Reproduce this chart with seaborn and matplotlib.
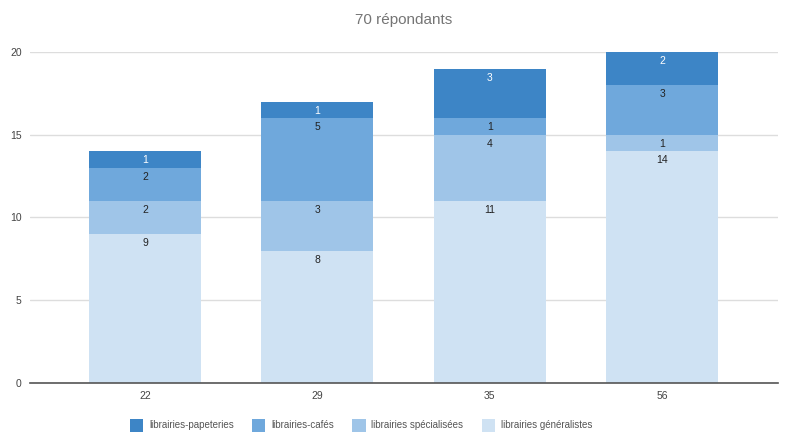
import pandas as pd
import matplotlib.pyplot as plt
import seaborn as sns

# Données
categories = ["22", "29", "35", "56"]
generalistes = [9, 8, 11, 14]
specialisees = [2, 3, 4, 1]
cafes = [2, 5, 1, 3]
papeteries = [1, 1, 3, 2]

series = ["librairies généralistes", "librairies spécialisées",
          "librairies-cafés", "librairies-papeteries"]
colors = ["#cfe2f3", "#9fc5e8", "#6fa8dc", "#3d85c6"]

df = pd.DataFrame({
    "cat": categories,
    series[0]: generalistes,
    series[1]: specialisees,
    series[2]: cafes,
    series[3]: papeteries,
})

sns.set_theme(style="white")
plt.rcParams["font.family"] = ["Liberation Sans", "DejaVu Sans"]

fig = plt.figure(figsize=(8.08, 4.48), dpi=100)
ax = fig.add_axes([0.0371, 0.1451, 0.9259, 0.7389])

# barres empilées avec seaborn (bottom = cumul des séries précédentes)
bottom = [0] * len(categories)
for i, s in enumerate(series):
    sns.barplot(data=df, x="cat", y=s, color=colors[i], width=0.65,
                bottom=bottom, saturation=1, ax=ax, label=s, linewidth=0)
    for j, v in enumerate(df[s]):
        top = bottom[j] + v
        txt_color = "white" if i == 3 else "#222222"
        ax.annotate(str(v), (j, top), xytext=(0, -6.5), textcoords="offset points",
                    ha="center", va="center", fontsize=7.5, color=txt_color)
    bottom = [b + v for b, v in zip(bottom, df[s])]

ax.set_xlim(-0.667, 3.673)
ax.set_ylim(0, 20)
ax.set_yticks([0, 5, 10, 15, 20])
ax.yaxis.grid(True, color="#dddddd", linewidth=1)
ax.set_axisbelow(True)
for sp in ["top", "right", "left"]:
    ax.spines[sp].set_visible(False)
ax.spines["bottom"].set_color("#555555")
ax.spines["bottom"].set_linewidth(1.2)
ax.tick_params(axis="both", length=0, labelsize=7.5, labelcolor="#444444", pad=6)
ax.set_xlabel("")
ax.set_ylabel("")
if ax.get_legend():
    ax.get_legend().remove()

fig.text(0.5, 0.955, "70 répondants", ha="center", va="center",
         fontsize=11, color="#757575")

handles, labels = ax.get_legend_handles_labels()
order = [3, 2, 1, 0]
fig.legend([handles[k] for k in order], [labels[k] for k in order],
           loc="center left", bbox_to_anchor=(0.155, 0.051), ncol=4, frameon=False,
           fontsize=7, labelcolor="#555555", handlelength=1.35, handleheight=1.65,
           columnspacing=1.9, handletextpad=0.6, borderpad=0)

fig.savefig("out.png", dpi=100)
